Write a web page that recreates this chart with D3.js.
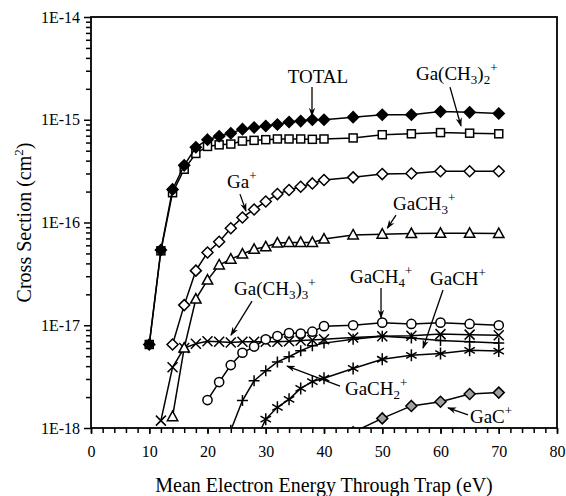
<!DOCTYPE html>
<html><head><meta charset="utf-8">
<script src="https://cdn.jsdelivr.net/npm/d3@7"></script>
<style>body{margin:0;background:#fff}</style></head>
<body><svg id="chart" width="566" height="496"></svg>
<script>
// ---------- DATA ----------
const xTicks = [0, 10, 20, 30, 40, 50, 60, 70, 80];
const yTicks = [1e-18, 1e-17, 1e-16, 1e-15, 1e-14];
const yTickLabels = ["1E-18", "1E-17", "1E-16", "1E-15", "1E-14"];

const totalE = [10,12,14,16,18,20,22,24,26,28,30,32,34,36,38,40,45,50,55,60,65,70];
const totalY = [6.5e-18,5.4e-17,2.1e-16,3.6e-16,5.4e-16,6.4e-16,6.9e-16,7.4e-16,8.1e-16,8.4e-16,8.7e-16,9.0e-16,9.5e-16,9.7e-16,1.0e-15,1.0e-15,1.06e-15,1.12e-15,1.12e-15,1.2e-15,1.18e-15,1.15e-15];

const dimethylE = [10,12,14,16,18,20,22,24,26,28,30,32,34,36,38,40,45,50,55,60,65,70];
const dimethylY = [6.5e-18,5.3e-17,1.95e-16,3.3e-16,4.7e-16,5.5e-16,5.7e-16,5.8e-16,6.2e-16,6.3e-16,6.4e-16,6.5e-16,6.5e-16,6.5e-16,6.45e-16,6.5e-16,6.65e-16,7.15e-16,7.3e-16,7.5e-16,7.4e-16,7.3e-16];

const gaE = [14,16,18,20,22,24,26,28,30,32,34,36,38,40,45,50,55,60,65,70];
const gaY = [6.5e-18,1.57e-17,3.4e-17,5.1e-17,6.5e-17,8.8e-17,1.12e-16,1.34e-16,1.6e-16,1.89e-16,2.07e-16,2.23e-16,2.4e-16,2.59e-16,2.75e-16,2.96e-16,3.0e-16,3.15e-16,3.15e-16,3.15e-16];

const methylE = [14,16,18,20,22,24,26,28,30,32,34,36,38,40,45,50,55,60,65,70];
const methylY = [1.29e-18,6.0e-18,1.8e-17,2.75e-17,3.86e-17,4.4e-17,4.93e-17,5.48e-17,5.8e-17,6.3e-17,6.4e-17,6.4e-17,6.4e-17,6.9e-17,7.56e-17,7.7e-17,7.8e-17,7.85e-17,7.85e-17,7.8e-17];

const trimethylE = [12,14,16,18,20,22,24,26,28,30,32,34,36,38,40,45,50,55,60,65,70];
const trimethylY = [1.18e-18,3.9e-18,6.0e-18,6.6e-18,7.0e-18,6.9e-18,6.8e-18,6.9e-18,6.9e-18,6.9e-18,6.9e-18,7.0e-18,7.1e-18,7.2e-18,7.3e-18,7.6e-18,7.8e-18,7.9e-18,8.2e-18,8.1e-18,8.0e-18];

const ch4E = [20,22,24,26,28,30,32,34,36,38,40,45,50,55,60,65,70];
const ch4Y = [1.87e-18,2.8e-18,4.1e-18,5.4e-18,6.2e-18,7.3e-18,7.85e-18,8.4e-18,8.3e-18,8.65e-18,9.8e-18,1.0e-17,1.06e-17,1.03e-17,1.06e-17,1.03e-17,1.0e-17];

const ch2E = [24,26,28,30,32,34,36,38,40,45,50,55,60,65,70];
const ch2Y = [9.5e-19,1.85e-18,2.88e-18,3.6e-18,4.4e-18,4.94e-18,5.65e-18,6.3e-18,6.7e-18,7.3e-18,7.8e-18,7.5e-18,7.1e-18,6.9e-18,6.7e-18];

const chE = [28,30,32,34,36,38,40,45,50,55,60,65,70];
const chY = [7.0e-19,1.22e-18,1.59e-18,1.9e-18,2.43e-18,2.83e-18,3.05e-18,3.8e-18,4.67e-18,5.1e-18,5.3e-18,5.7e-18,5.6e-18];

const gacE = [45,50,55,60,65,70];
const gacY = [9.1e-19,1.24e-18,1.64e-18,1.8e-18,2.14e-18,2.21e-18];

// ---------- LAYOUT ----------
const W = 566, H = 496;
const m = {left: 91, right: 9, top: 17, bottom: 68};
const svg = d3.select("#chart");
const x = d3.scaleLinear().domain([0, 80]).range([m.left, W - m.right]);
const y = d3.scaleLog().domain([1e-18, 1e-14]).range([H - m.bottom, m.top]);
const FONT = "'Liberation Serif', 'Times New Roman', serif";

svg.append("rect").attr("width", W).attr("height", H).attr("fill", "#fff");

svg.append("defs").append("clipPath").attr("id", "clip")
  .append("rect").attr("x", m.left).attr("y", m.top)
  .attr("width", W - m.left - m.right).attr("height", H - m.top - m.bottom);

// axes
const minorX = d3.range(0, 81, 2);
const xAxisMinor = d3.axisBottom(x).tickValues(minorX).tickSize(5).tickFormat("");
const xAxis = d3.axisBottom(x).tickValues(xTicks).tickSize(6).tickPadding(12).tickFormat(d3.format("d"));
const gx1 = svg.append("g").attr("transform", `translate(0,${H - m.bottom})`).call(xAxisMinor);
const gx2 = svg.append("g").attr("transform", `translate(0,${H - m.bottom})`).call(xAxis);

const minorY = [];
for (let e = -18; e < -14; e++) for (let k = 2; k <= 9; k++) minorY.push(k * Math.pow(10, e));
const yAxisMinor = d3.axisLeft(y).tickValues(minorY).tickSize(5).tickFormat("");
const yAxis = d3.axisLeft(y).tickValues(yTicks).tickSize(7).tickPadding(4)
  .tickFormat((d, i) => yTickLabels[i]);
const gy1 = svg.append("g").attr("transform", `translate(${m.left},0)`).call(yAxisMinor);
const gy2 = svg.append("g").attr("transform", `translate(${m.left},0)`).call(yAxis);

[gx1, gx2, gy1, gy2].forEach(g => {
  g.select(".domain").remove();
  g.selectAll(".tick line").attr("stroke", "#000").attr("stroke-width", 1.5);
  g.selectAll("text").attr("font-family", FONT).attr("font-size", 16).attr("fill", "#000");
});

// frame
svg.append("rect").attr("x", m.left).attr("y", m.top)
  .attr("width", W - m.left - m.right).attr("height", H - m.top - m.bottom)
  .attr("fill", "none").attr("stroke", "#000").attr("stroke-width", 1.8);

// axis titles
svg.append("text").attr("x", (m.left + W - m.right) / 2).attr("y", 492)
  .attr("text-anchor", "middle").attr("font-family", FONT).attr("font-size", 20)
  .text("Mean Electron Energy Through Trap (eV)");
const yt = svg.append("text").attr("transform", `translate(31,${(m.top + H - m.bottom) / 2}) rotate(-90)`)
  .attr("text-anchor", "middle").attr("font-family", FONT).attr("font-size", 20);
yt.append("tspan").text("Cross Section (cm");
yt.append("tspan").attr("font-size", 13).attr("dy", -8).text("2");
yt.append("tspan").attr("dy", 8).text(")");

// ---------- SERIES ----------
const markers = {
  diamond: (g, s) => g.append("path").attr("d", "M0,-5.5L5.5,0L0,5.5L-5.5,0Z"),
  square: (g) => g.append("rect").attr("x", -4).attr("y", -4).attr("width", 8).attr("height", 8),
  circle: (g) => g.append("circle").attr("r", 4.6),
  triangle: (g) => g.append("path").attr("d", "M0,-5.5L5.2,4L-5.2,4Z"),
  cross: (g) => g.append("path").attr("d", "M-5,-5L5,5M-5,5L5,-5"),
  plus: (g) => g.append("path").attr("d", "M-5.5,0L5.5,0M0,-5.5L0,5.5"),
  star: (g) => g.append("path").attr("d", "M0,-6L0,6M-5.2,-3L5.2,3M-5.2,3L5.2,-3")
};

const series = [
  {e: trimethylE, v: trimethylY, mk: "cross", fill: "none"},
  {e: chE, v: chY, mk: "star", fill: "none"},
  {e: ch2E, v: ch2Y, mk: "plus", fill: "none"},
  {e: ch4E, v: ch4Y, mk: "circle", fill: "#fff"},
  {e: gacE, v: gacY, mk: "diamond", fill: "#a0a0a0"},
  {e: methylE, v: methylY, mk: "triangle", fill: "#fff"},
  {e: gaE, v: gaY, mk: "diamond", fill: "#fff"},
  {e: dimethylE, v: dimethylY, mk: "square", fill: "#fff"},
  {e: totalE, v: totalY, mk: "diamond", fill: "#000"}
];

const plot = svg.append("g").attr("clip-path", "url(#clip)");
const line = d3.line().x(d => x(d[0])).y(d => y(d[1]));
series.forEach(s => {
  const pts = s.e.map((e, i) => [e, s.v[i]]);
  const g = plot.append("g");
  g.append("path").attr("d", line(pts)).attr("fill", "none").attr("stroke", "#000").attr("stroke-width", 1.5);
  pts.forEach(p => {
    const mg = g.append("g").attr("transform", `translate(${x(p[0])},${y(p[1])})`);
    markers[s.mk](mg).attr("fill", s.fill).attr("stroke", "#000").attr("stroke-width", 1.5);
  });
});

// ---------- ANNOTATIONS ----------
svg.select("defs").append("marker").attr("id", "arr").attr("viewBox", "0 0 10 10")
  .attr("refX", 9).attr("refY", 5).attr("markerWidth", 9).attr("markerHeight", 9)
  .attr("markerUnits", "userSpaceOnUse").attr("orient", "auto")
  .append("path").attr("d", "M0,1.5L10,5L0,8.5L3,5Z").attr("fill", "#000");

// parts: [text, kind] kind: n normal, b sub, p sup
const labels = [
  {parts: [["TOTAL","n"]], at: [38.97, 2.28e-15], anchor: "middle", arrow: [[37.94, 2.08e-15],[37.94, 1.09e-15]]},
  {parts: [["Ga(CH","n"],["3","b"],[")","n"],["2","b"],["+","p"]], at: [55.79, 2.44e-15], arrow: [[61.63, 2.08e-15],[63.52, 8.7e-16]]},
  {parts: [["Ga","n"],["+","p"]], at: [23.35, 2.17e-16], arrow: [[25.58, 1.89e-16],[26.61, 1.29e-16]]},
  {parts: [["GaCH","n"],["3","b"],["+","p"]], at: [51.85, 1.32e-16], arrow: [[52.36, 1.18e-16],[50.87, 8.8e-17]]},
  {parts: [["Ga(CH","n"],["3","b"],[")","n"],["3","b"],["+","p"]], at: [24.55, 1.97e-17], arrow: [[27.64, 1.72e-17],[24.03, 8.0e-18]]},
  {parts: [["GaCH","n"],["4","b"],["+","p"]], at: [44.46, 2.58e-17], arrow: [[49.79, 2.31e-17],[49.79, 1.18e-17]]},
  {parts: [["GaCH","n"],["+","p"]], at: [58.2, 2.46e-17], arrow: [[60.43, 2.2e-17],[57.0, 6.0e-18]]},
  {parts: [["GaCH","n"],["2","b"],["+","p"]], at: [43.6, 2.09e-18], arrow: [[42.75, 2.56e-18],[33.65, 4.01e-18]]},
  {parts: [["GaC","n"],["+","p"]], at: [65.06, 1.12e-18], arrow: [[64.72, 1.34e-18],[61.29, 1.57e-18]]}
];
const off = {n: 0, b: 4, p: -8};
labels.forEach(l => {
  const t = svg.append("text").attr("x", x(l.at[0])).attr("y", y(l.at[1]))
    .attr("font-family", FONT).attr("font-size", 19).attr("text-anchor", l.anchor || "start");
  let cur = 0;
  l.parts.forEach(([s, k]) => {
    t.append("tspan").attr("dy", off[k] - cur).attr("font-size", k === "n" ? 19 : 13).text(s);
    cur = off[k];
  });
  svg.append("line").attr("x1", x(l.arrow[0][0])).attr("y1", y(l.arrow[0][1]))
    .attr("x2", x(l.arrow[1][0])).attr("y2", y(l.arrow[1][1]))
    .attr("stroke", "#000").attr("stroke-width", 1.3).attr("marker-end", "url(#arr)");
});
</script></body></html>
